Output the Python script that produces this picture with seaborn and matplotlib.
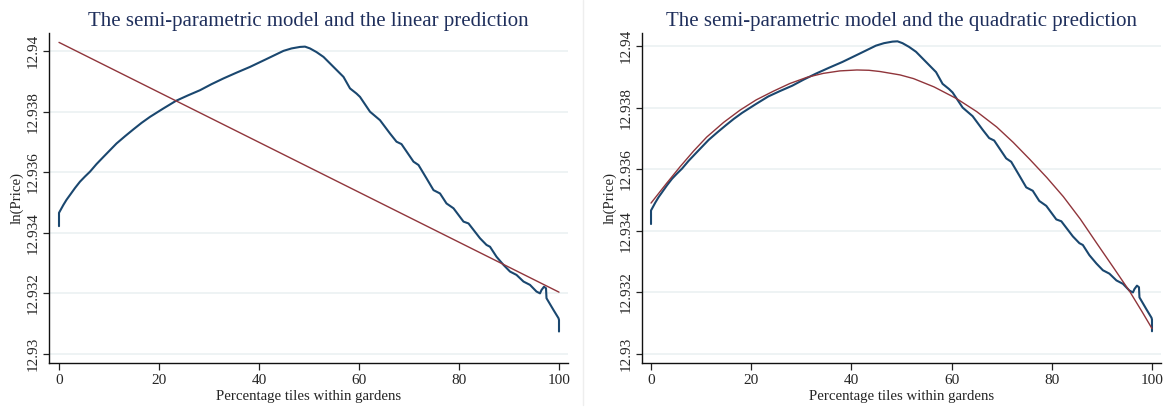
import numpy as np
import pandas as pd
import matplotlib
matplotlib.use("Agg")
import matplotlib.pyplot as plt
from matplotlib.lines import Line2D
import seaborn as sns

# ---- data ----
semi_x = [0, 0, 0.87, 1.5, 2.2, 3.2, 4.2, 5.2, 6.2, 7.5, 8.9, 10.2, 11.5, 13.2, 14.9, 16.5, 18.2,
          20.8, 23.4, 25.8, 28.2, 30.5, 32.9, 35.5, 38.2, 41.5, 44.9, 46.5, 48.2, 49.2,
          50.2, 51.5, 52.9, 54.9, 56.9, 58.2, 59.5, 60.2, 62.2, 64.2, 66.2, 67.5, 68.5, 70.9, 71.9,
          73.5, 74.9, 76.2, 77.5, 78.9, 80.9, 81.9, 84.2, 85.5, 86.2, 87.5, 88.9, 90.2, 91.5, 92.9,
          94.2, 95.5, 96.2, 96.5, 97.0, 97.4, 97.5, 98.9, 99.9, 100, 100]
semi_y = [12.93422, 12.93466, 12.93492, 12.93509, 12.93525, 12.93548, 12.93569, 12.93586, 12.93602,
          12.93627, 12.93651, 12.93673, 12.93695, 12.93719, 12.93742, 12.93763, 12.93783,
          12.93810, 12.93836, 12.93854, 12.93871, 12.93891, 12.93910, 12.93929, 12.93948, 12.93974,
          12.94001, 12.94009, 12.94014, 12.94015,
          12.94009, 12.93997, 12.93981, 12.93948, 12.93915, 12.93877, 12.93860, 12.93849, 12.93800,
          12.93772, 12.93728, 12.93701, 12.93693, 12.93635, 12.93624, 12.93580, 12.93541, 12.93530,
          12.93497, 12.93481, 12.93437, 12.93431, 12.93382, 12.93360, 12.93354, 12.93321, 12.93294,
          12.93272, 12.93261, 12.93239, 12.93228, 12.93206, 12.93200, 12.93211, 12.93222, 12.93217,
          12.93184, 12.93145, 12.93118, 12.93112, 12.93074]

lin_x = [0, 100]
lin_y = [12.94029, 12.93204]

quad_x = [0, 3, 5.8, 8.5, 11.1, 14.5, 17.8, 21, 24.4, 27.7, 31.1, 34.4, 37.7, 41.1, 43.5, 45.7,
          49.7, 52.4, 56.5, 61, 65, 69, 72.3, 75.6, 79, 82.3, 85.7, 89, 92.3, 95.6, 98, 100]
quad_y = [12.93490, 12.93552, 12.93608, 12.93659, 12.93704, 12.93752, 12.93792, 12.93825,
          12.93853, 12.93878, 12.93898, 12.93911, 12.93919, 12.93922, 12.93921, 12.93917,
          12.93906, 12.93894, 12.93867, 12.93829, 12.93787, 12.93737, 12.93687, 12.93632,
          12.93573, 12.93511, 12.93438, 12.93359, 12.93281, 12.93202, 12.93138, 12.93083]

titles = ["The semi-parametric model and the linear prediction",
          "The semi-parametric model and the quadratic prediction"]
x_ticks = [0, 20, 40, 60, 80, 100]
y_ticks = [12.93, 12.932, 12.934, 12.936, 12.938, 12.94]
y_ticklabels = ["12.93", "12.932", "12.934", "12.936", "12.938", "12.94"]
x_label = "Percentage tiles within gardens"
y_label = "ln(Price)"

# ---- style ----
sns.set_theme(style="white")
plt.rcParams["font.family"] = ["Liberation Serif", "DejaVu Serif"]

NAVY = "#1a476f"
MAROON = "#90353b"
TITLE_C = "#1f2f5c"
GRID_C = "#edf2f3"

W, H = 1166, 407
fig = plt.figure(figsize=(W / 100, H / 100), dpi=100)
fig.patch.set_facecolor("white")

semi_df = pd.DataFrame({"x": semi_x, "y": semi_y})
lin_df = pd.DataFrame({"x": lin_x, "y": lin_y})
quad_df = pd.DataFrame({"x": quad_x, "y": quad_y})

panels = [
    dict(rect=(49, 33, 568, 363), pred=lin_df, ylim=(12.9297, 12.9406), xlim=(-2.0, 101.8)),
    dict(rect=(642, 33, 1161, 363), pred=quad_df, ylim=(12.92971, 12.94042), xlim=(-1.8, 101.8)),
]

for i, p in enumerate(panels):
    x0, y0, x1, y1 = p["rect"]
    ax = fig.add_axes([x0 / W, 1 - y1 / H, (x1 - x0) / W, (y1 - y0) / H])
    ax.set_facecolor("white")
    for yt in y_ticks:
        ax.axhline(yt, color=GRID_C, lw=1.3, zorder=0)
    sns.lineplot(data=semi_df, x="x", y="y", ax=ax, sort=False, estimator=None,
                 color=NAVY, lw=1.5, zorder=3)
    sns.lineplot(data=p["pred"], x="x", y="y", ax=ax, sort=False, estimator=None,
                 color=MAROON, lw=1.0, zorder=4)
    ax.set_xlim(*p["xlim"])
    ax.set_ylim(*p["ylim"])
    ax.set_xticks(x_ticks)
    ax.set_xticklabels([str(t) for t in x_ticks])
    ax.set_yticks(y_ticks)
    ax.set_yticklabels(y_ticklabels)
    ax.tick_params(axis="x", length=5, width=0.9, color="#222222", labelsize=11, pad=3,
                   direction="out", bottom=True)
    ax.tick_params(axis="y", length=4, width=0.9, color="#222222", labelsize=11, pad=3,
                   direction="out", left=True, labelrotation=90)
    for lab in ax.get_yticklabels():
        lab.set_va("center")
    for s in ["top", "right"]:
        ax.spines[s].set_visible(False)
    for s in ["left", "bottom"]:
        ax.spines[s].set_color("#111111")
        ax.spines[s].set_linewidth(1.0)
    ax.grid(False)
    ax.set_xlabel(x_label, fontsize=10.7, labelpad=2)
    ax.set_ylabel(y_label, fontsize=10.7, labelpad=2)
    ax.set_title(titles[i], fontsize=15, color=TITLE_C, pad=5)

fig.add_artist(Line2D([583 / W, 583 / W], [0.005, 1.0], color="#eeeeee", lw=1.0))

fig.savefig("out.png", dpi=100, facecolor="white")
